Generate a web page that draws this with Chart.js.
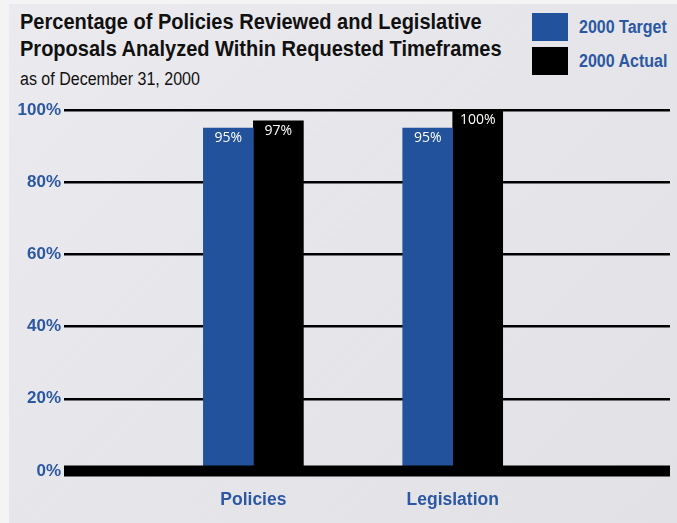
<!DOCTYPE html>
<html>
<head>
<meta charset="utf-8">
<script src="https://cdn.jsdelivr.net/npm/chart.js@4/dist/chart.umd.min.js"></script>
<style>
  html, body { margin: 0; padding: 0; }
  body { width: 677px; height: 523px; position: relative; overflow: hidden; background: #f4f4f5; }
  #panel {
    position: absolute; left: 9px; top: 4px; right: 0; bottom: 0;
    background: linear-gradient(135deg, #ebeaee 0%, #e6e5ea 50%, #e2e1e6 100%);
  }
  #chartWrap { position: absolute; left: 0; top: 0; width: 677px; height: 523px; }
  .txt { font-family: "Liberation Sans", Arial, sans-serif; white-space: nowrap; transform-origin: 0 0; }
  .title {
    position: absolute; left: 20px; top: 9px; margin: 0;
    font-weight: bold; font-size: 22px; line-height: 26.5px; color: #111;
    transform: scaleX(0.91);
  }
  .subtitle {
    position: absolute; left: 20px; top: 69px; margin: 0;
    font-size: 18px; line-height: 20px; color: #111;
    transform: scaleX(0.89);
  }
  .swatch { position: absolute; left: 532px; width: 36px; height: 28px; }
  .legend-label {
    position: absolute; left: 579px;
    font-weight: bold; font-size: 18px; line-height: 20px; color: #2b57a3;
    transform: scaleX(0.89);
  }
</style>
</head>
<body>
<div id="panel"></div>
<div class="txt title">Percentage of Policies Reviewed and Legislative<br>Proposals Analyzed Within Requested Timeframes</div>
<div class="txt subtitle">as of December 31, 2000</div>
<div class="swatch" style="top:13px; background:#22529b"></div>
<div class="txt legend-label" style="top:17px">2000 Target</div>
<div class="swatch" style="top:47px; background:#000"></div>
<div class="txt legend-label" style="top:50.5px">2000 Actual</div>
<div id="chartWrap"><canvas id="chart" width="677" height="523"></canvas></div>
<script>
// Programme areas and their results (percent completed within requested timeframes)
const categories = ['Policies', 'Legislation'];
const target2000 = [95, 95];
const actual2000 = [97, 100];
const yTicks = [0, 20, 40, 60, 80, 100];

const BLUE = '#22529b';
const LABEL_BLUE = '#2b57a3';
const SANS = '"Liberation Sans", Arial, sans-serif';

// categories sit at x = 1, 2 on a linear axis so the gutters can be set freely
const toPoints = (vals) => vals.map((v, i) => ({ x: i + 1, y: v }));

// white value labels just inside the top of each bar
const valueLabels = {
  id: 'valueLabels',
  afterDatasetsDraw(chart) {
    const ctx = chart.ctx;
    ctx.save();
    ctx.fillStyle = '#ffffff';
    ctx.font = '14px "Open Sans", sans-serif';
    ctx.textAlign = 'center';
    ctx.textBaseline = 'alphabetic';
    chart.data.datasets.forEach((ds, di) => {
      chart.getDatasetMeta(di).data.forEach((bar, i) => {
        ctx.fillText(ds.data[i].y + '%', bar.x, bar.y + 14);
      });
    });
    ctx.restore();
  }
};

// heavy baseline at 0% laid over the foot of the bars
const zeroLine = {
  id: 'zeroLine',
  afterDatasetsDraw(chart) {
    const { ctx, chartArea, scales } = chart;
    const y0 = scales.y.getPixelForValue(0);
    ctx.save();
    ctx.fillStyle = '#000';
    ctx.fillRect(chartArea.left, y0 - 5.5, chartArea.right - chartArea.left, 11);
    ctx.restore();
  }
};

new Chart(document.getElementById('chart'), {
  type: 'bar',
  data: {
    datasets: [
      { label: '2000 Target', data: toPoints(target2000), backgroundColor: BLUE, barThickness: 50 },
      { label: '2000 Actual', data: toPoints(actual2000), backgroundColor: '#000000', barThickness: 50 }
    ]
  },
  options: {
    responsive: false,
    animation: false,
    events: [],
    layout: { padding: { left: 0, top: 110, right: 7, bottom: 0 } },
    plugins: { legend: { display: false }, tooltip: { enabled: false }, title: { display: false } },
    scales: {
      x: {
        type: 'linear',
        offset: false,
        min: 0.05,
        max: 3.09,
        grid: { display: false, drawTicks: false },
        border: { display: false },
        afterFit(scale) { scale.height = 52; },
        afterBuildTicks(scale) { scale.ticks = categories.map((c, i) => ({ value: i + 1 })); },
        ticks: {
          padding: 19,
          color: LABEL_BLUE,
          font: { family: SANS, size: 17.5, weight: 'bold' },
          callback: (v) => categories[v - 1] || ''
        }
      },
      y: {
        min: 0,
        max: 100,
        afterFit(scale) { scale.width = 64; },
        afterBuildTicks(scale) { scale.ticks = yTicks.map((v) => ({ value: v })); },
        grid: {
          color: '#000',
          lineWidth: (c) => (c.tick && c.tick.value === 0 ? 0 : 2.5),
          drawTicks: false
        },
        border: { display: false },
        ticks: {
          padding: 3,
          color: LABEL_BLUE,
          font: { family: SANS, size: 17, weight: 'bold' },
          callback: (v) => v + '%'
        }
      }
    }
  },
  plugins: [valueLabels, zeroLine]
});
</script>
</body>
</html>
